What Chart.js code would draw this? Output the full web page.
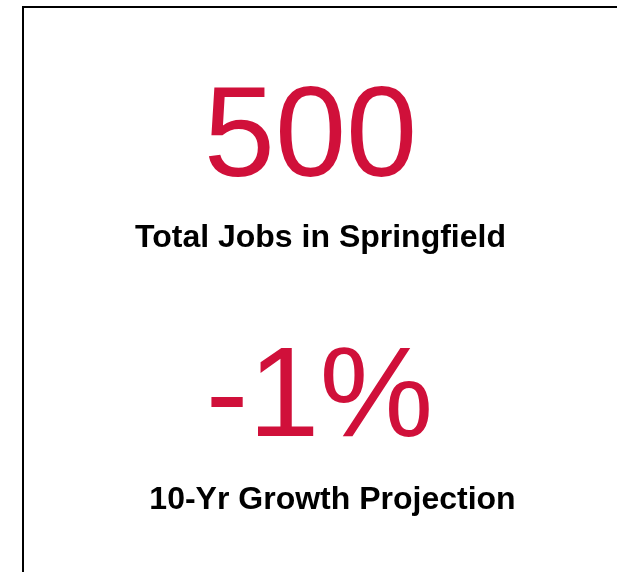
<!DOCTYPE html>
<html>
<head>
<meta charset="utf-8">
<script src="https://cdn.jsdelivr.net/npm/chart.js@4.4.1/dist/chart.umd.min.js"></script>
<style>
    html, body { margin: 0; padding: 0; background: #fff; overflow: hidden; }
    #wrap { position: relative; width: 617px; height: 572px; overflow: hidden; }
    #card { position: absolute; left: 22px; top: 6px; width: 700px; height: 700px; border: 2px solid #000; }
    #chartBox { position: absolute; left: 0; top: 0; width: 617px; height: 572px; }
</style>
</head>
<body>
<div id="wrap">
    <div id="card"></div>
    <div id="chartBox"><canvas id="kpiChart"></canvas></div>
</div>
<script>
// KPI data
const categories = ['Total Jobs in Springfield', '10-Yr Growth Projection'];
const values = [500, -1];
const units = ['', '%'];

const kpiRed = '#D0103A';

// Plugin that writes the big number and its caption at each point
const kpiText = {
    id: 'kpiText',
    afterDatasetsDraw(chart, args, opts) {
        const ctx = chart.ctx;
        const meta = chart.getDatasetMeta(0);
        ctx.save();
        ctx.textAlign = 'center';
        ctx.textBaseline = 'alphabetic';
        meta.data.forEach(function(pt, i) {
            ctx.fillStyle = kpiRed;
            ctx.font = '128px "Liberation Sans", Arial, sans-serif';
            ctx.fillText(values[i] + units[i], pt.x + opts.valueShift[i], pt.y);
            ctx.fillStyle = '#000';
            ctx.font = 'bold 32px "Liberation Sans", Arial, sans-serif';
            ctx.fillText(categories[i], pt.x + opts.labelShift[i], pt.y + opts.labelGap[i]);
        });
        ctx.restore();
    }
};

function initKpiChart() {
    const ctx = document.getElementById('kpiChart').getContext('2d');
    new Chart(ctx, {
        type: 'scatter',
        data: {
            labels: categories,
            datasets: [{
                data: categories.map(function(c) { return { x: 0, y: c }; }),
                pointRadius: 0,
                pointHoverRadius: 0
            }]
        },
        options: {
            responsive: true,
            maintainAspectRatio: false,
            animation: false,
            layout: { padding: { top: 46, bottom: 6, left: 0, right: 0 } },
            plugins: {
                legend: { display: false },
                tooltip: { enabled: false },
                kpiText: { valueShift: [2, 11], labelShift: [12, 24], labelGap: [71, 73] }
            },
            scales: {
                x: { type: 'linear', min: -1, max: 1, display: false },
                y: { type: 'category', offset: true, display: false }
            }
        },
        plugins: [kpiText]
    });
}

document.addEventListener('DOMContentLoaded', initKpiChart);
</script>
</body>
</html>
